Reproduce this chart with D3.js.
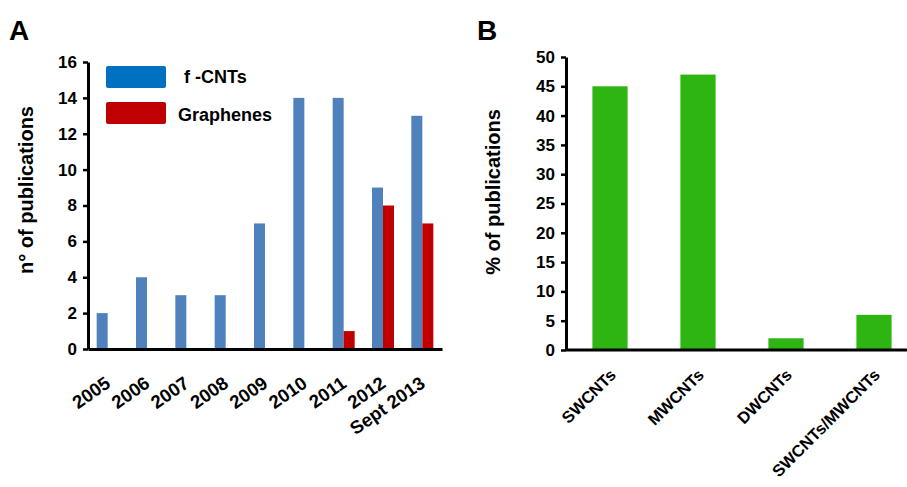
<!DOCTYPE html>
<html>
<head>
<meta charset="utf-8">
<script src="https://cdn.jsdelivr.net/npm/d3@7"></script>
<style>
  body { margin: 0; background: #fff; }
  svg { display: block; font-family: "Liberation Sans", Arial, Helvetica, sans-serif; font-weight: bold; }
</style>
</head>
<body>
<svg id="chart" width="907" height="487"></svg>
<script>
// panel A data
var years = ["2005", "2006", "2007", "2008", "2009", "2010", "2011", "2012", "Sept 2013"];
var cntCounts = [2, 4, 3, 3, 7, 14, 14, 9, 13];
var grapheneCounts = [0, 0, 0, 0, 0, 0, 1, 8, 7];
var ticksA = [0, 2, 4, 6, 8, 10, 12, 14, 16];
var legendA = ["f -CNTs", "Graphenes"];

// panel B data
var cntTypes = ["SWCNTs", "MWCNTs", "DWCNTs", "SWCNTs/MWCNTs"];
var cntPercent = [45, 47, 2, 6];
var ticksB = [0, 5, 10, 15, 20, 25, 30, 35, 40, 45, 50];

var svg = d3.select("#chart");

// draws a thick black axis like the original figure
function styleAxis(g) {
  g.selectAll("path").attr("stroke", "#000").attr("stroke-width", 3);
  g.selectAll("line").attr("stroke", "#000").attr("stroke-width", 2.5);
  g.selectAll("text").attr("fill", "#000").attr("font-weight", "bold");
}

/* ---------- Panel A ---------- */
var xA = d3.scaleBand().domain(years).range([88, 442]);
var yA = d3.scaleLinear().domain([0, 16]).range([349, 62]);
var barW = 11;

var gA = svg.append("g");

gA.append("g")
  .selectAll("rect.cnt")
  .data(years)
  .enter().append("rect")
  .attr("x", function(d) { return xA(d) + xA.bandwidth() / 2 - barW; })
  .attr("y", function(d, i) { return yA(cntCounts[i]); })
  .attr("width", barW)
  .attr("height", function(d, i) { return yA(0) - yA(cntCounts[i]); })
  .attr("fill", "#4f81bd");

gA.append("g")
  .selectAll("rect.gr")
  .data(years)
  .enter().append("rect")
  .attr("x", function(d) { return xA(d) + xA.bandwidth() / 2; })
  .attr("y", function(d, i) { return yA(grapheneCounts[i]); })
  .attr("width", barW)
  .attr("height", function(d, i) { return yA(0) - yA(grapheneCounts[i]); })
  .attr("fill", "#c00000");

var axA = gA.append("g")
  .attr("transform", "translate(88,0)")
  .call(d3.axisLeft(yA).tickValues(ticksA).tickSize(5).tickSizeOuter(0).tickPadding(6));
axA.selectAll("text").attr("font-size", 17);
styleAxis(axA);

var axAx = gA.append("g")
  .attr("transform", "translate(0,349)")
  .call(d3.axisBottom(xA).tickSize(0).tickSizeOuter(0));
axAx.selectAll("text")
  .attr("font-size", 18.5)
  .attr("text-anchor", "end")
  .attr("x", 0).attr("y", 0).attr("dy", 0)
  .attr("transform", "translate(4,37) rotate(-35)");
styleAxis(axAx);

// legend
var legColors = ["#0070c0", "#c00000"];
var leg = gA.append("g").selectAll("g")
  .data(legendA)
  .enter().append("g")
  .attr("transform", function(d, i) { return "translate(106," + (66 + i * 36) + ")"; });
leg.append("rect")
  .attr("width", 60).attr("height", 22).attr("rx", 2)
  .attr("fill", function(d, i) { return legColors[i]; });
leg.append("text")
  .attr("x", function(d, i) { return i === 0 ? 78 : 72; })
  .attr("y", function(d, i) { return i === 0 ? 17 : 19; })
  .attr("font-size", 18)
  .text(function(d) { return d; });

gA.append("text")
  .attr("transform", "translate(33,190) rotate(-90)")
  .attr("text-anchor", "middle")
  .attr("font-size", 20)
  .text("n° of publications");

svg.append("text").attr("x", 9).attr("y", 40).attr("font-size", 28).text("A");

/* ---------- Panel B ---------- */
var xB = d3.scaleBand().domain(cntTypes).range([566, 918]).paddingInner(0.6).paddingOuter(0.3);
var yB = d3.scaleLinear().domain([0, 50]).range([350, 57]);

var gB = svg.append("g");

gB.append("g")
  .selectAll("rect")
  .data(cntTypes)
  .enter().append("rect")
  .attr("x", function(d) { return xB(d); })
  .attr("y", function(d, i) { return yB(cntPercent[i]); })
  .attr("width", xB.bandwidth())
  .attr("height", function(d, i) { return yB(0) - yB(cntPercent[i]); })
  .attr("fill", "#2eb512");

var axB = gB.append("g")
  .attr("transform", "translate(566,0)")
  .call(d3.axisLeft(yB).tickValues(ticksB).tickSize(5).tickSizeOuter(0).tickPadding(6));
axB.selectAll("text").attr("font-size", 17);
styleAxis(axB);

var axBx = gB.append("g")
  .attr("transform", "translate(0,350)")
  .call(d3.axisBottom(xB).tickSize(0).tickSizeOuter(0));
axBx.select("path").attr("d", "M566,0H918");
axBx.selectAll("text")
  .attr("font-size", 16.5)
  .attr("text-anchor", "end")
  .attr("x", 0).attr("y", 0).attr("dy", 0)
  .attr("transform", "translate(7,26) rotate(-45)");
styleAxis(axBx);

gB.append("text")
  .attr("transform", "translate(500,192) rotate(-90)")
  .attr("text-anchor", "middle")
  .attr("font-size", 20)
  .text("% of publications");

svg.append("text").attr("x", 477).attr("y", 40).attr("font-size", 28).text("B");
</script>
</body>
</html>
